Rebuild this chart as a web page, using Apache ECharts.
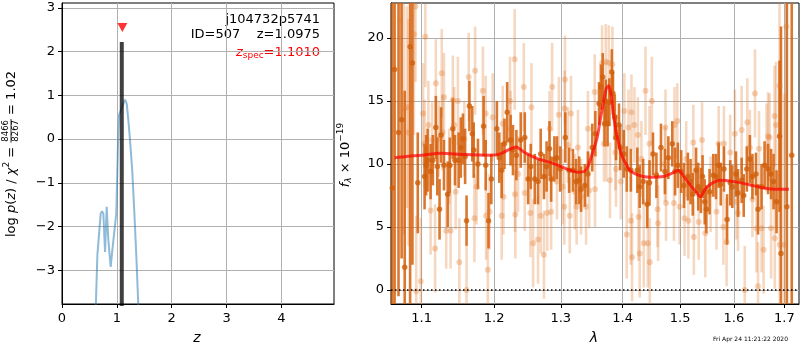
<!DOCTYPE html>
<html><head><meta charset="utf-8">
<script src="https://cdn.jsdelivr.net/npm/echarts@6/dist/echarts.min.js"></script>
<style>html,body{margin:0;padding:0;background:#fff}#c{width:800px;height:350px}</style>
</head><body><div id="c"></div>
<script>
// ---------- left panel data ----------
const zGrid = [0.60,0.645,0.675,0.706,0.73,0.754,0.785,0.815,0.845,0.888,0.918,0.948,0.99,1.02,1.04,1.076,1.11,1.15,1.18,1.21,1.235,1.25,1.28,1.32,1.356,1.39,1.40];
const logPz = [-4.5,-2.65,-2.63,-1.70,-1.65,-1.70,-2.58,-1.55,-2.31,-2.92,-2.54,-2.50,-1.70,-0.17,0.55,0.59,0.78,0.90,0.81,0.43,0.06,0.02,-0.70,-1.70,-2.69,-3.75,-4.5];
const zBest = 1.09, zBestTop = 2.22;
const zSpec = 1.101, zSpecMark = 2.55;
const zTicks = [0,1,2,3,4];
const logpTicks = [-3,-2,-1,0,1,2,3];
// ---------- right panel data ----------
const lamTicks = [1.1,1.2,1.3,1.4,1.5,1.6,1.7];
const fluxTicks = [0,5,10,15,20];
const lamD = [1.062,1.065,1.070,1.074,1.078,1.085,1.088,1.095,1.104,1.106,1.108,1.112,1.115,1.119,1.121,1.124,1.126,1.130,1.135,1.138,1.142,1.145,1.150,1.153,1.156,1.159,1.161,1.165,1.169,
1.171,1.177,1.185,1.188,1.192,1.196,1.204,1.2075,1.211,1.215,1.219,1.224,1.2275,1.2325,1.239,1.245,1.250,1.254,1.260,1.265,1.269,1.274,1.278,1.2825,1.285,
1.290,1.294,1.299,1.307,1.313,1.319,1.324,1.329,1.332,1.338,1.343,1.350,1.355,1.361,1.364,1.367,1.370,1.372,1.375,1.378,1.382,1.384,1.387,1.389,1.394,1.396,1.402,1.407,1.414,
1.425,1.429,1.435,1.442,1.446,1.452,1.458,1.466,1.473,1.479,1.486,1.491,1.496,1.502,1.507,1.514,1.519,1.523,1.529,1.533,1.538,1.541,1.545,1.548,1.554,1.561,1.566,
1.571,1.575,1.581,1.587,1.593,1.597,1.604,1.608,1.615,1.619,1.625,1.631,1.636,1.643,1.647,1.654,1.660,1.667,1.673,1.678,1.684,1.690,1.693,1.705,1.715];
const fluxD = [8.1,17.5,12.5,13.5,1.8,19.3,18.0,8.5,9.0,9.9,10.3,9.4,10.3,12.9,9.8,6.4,12.3,9.9,7.6,9.9,12.8,10.3,10.3,11.3,12.0,10.6,5.5,14.6,12.4,
11.1,10.0,13.0,9.9,5.5,8.8,12.8,10.5,9.5,11.6,14.1,11.9,11.1,10.7,11.9,12.1,8.8,9.8,8.8,8.6,10.8,9.0,9.8,11.2,8.8,
10.4,10.5,9.6,12.1,9.5,9.5,8.6,8.7,8.0,8.3,9.2,11.3,12.4,14.8,16.1,16.9,13.2,15.0,13.2,14.9,17.3,15.6,13.7,12.1,13.1,11.3,10.8,9.6,9.5,
9.5,8.2,8.6,6.8,8.5,10.8,9.1,11.3,9.4,10.5,11.6,9.4,9.9,9.4,8.3,9.0,8.6,7.6,9.5,8.2,7.9,9.0,7.0,6.4,7.8,9.1,9.0,
9.9,8.4,9.6,5.6,8.5,8.2,9.2,7.7,8.7,7.5,9.6,10.4,9.0,9.2,6.4,8.2,9.9,9.6,9.2,8.6,7.0,12.2,2.9,6.6,10.7];
const errD = [22,22,13,11,14,22,16,4,2.6,2.4,2.5,2.2,2.0,2.5,2.3,2.4,2.2,2.0,2.6,2.2,2.4,2.0,2.2,2.4,2.0,2.2,2.0,2.0,2.2,
2.2,2.0,2.4,2.0,2.2,2.0,2.2,2.0,2.2,2.0,2.4,2.0,2.0,2.0,2.2,2.0,2.0,1.8,2.0,1.8,2.0,1.8,2.0,2.2,1.8,
1.8,1.7,1.8,2.0,1.8,1.7,1.8,1.9,1.8,1.7,1.8,1.9,1.8,1.7,1.8,1.9,1.8,1.7,1.8,1.9,1.8,1.7,1.8,1.8,1.7,1.8,1.9,1.8,1.7,
1.8,1.7,1.8,1.9,1.8,1.7,1.8,1.9,1.8,1.7,1.8,1.9,1.8,1.7,1.8,1.9,1.8,1.7,1.8,1.9,1.8,1.7,1.8,1.9,1.8,1.7,1.8,
1.8,1.7,1.8,2.0,1.8,1.7,1.8,1.9,1.8,1.7,1.8,1.9,1.8,1.7,2.0,1.8,1.9,2.0,2.0,2.2,2.5,6,18,22,26];
const lamL = [1.072,1.077,1.081,1.083,1.090,1.092,1.093,1.099,1.102,1.104,1.105,1.109,1.112,1.114,1.118,1.119,1.123,1.127,1.128,1.130,1.133,1.137,1.139,1.142,1.144,1.146,1.149,1.151,1.158,1.161,1.164,
1.172,1.173,1.175,1.184,1.188,1.1885,1.191,1.1935,1.198,1.211,1.2125,1.2135,1.223,1.224,1.230,1.2305,1.231,1.235,1.2435,1.245,1.2535,1.255,1.2575,1.265,1.269,1.274,1.279,1.2825,1.285,1.2865,
1.294,1.297,1.303,1.306,1.3065,1.3055,1.311,1.314,1.316,1.322,1.325,1.327,1.332,1.340,1.343,1.345,1.354,1.3545,1.366,1.369,1.372,1.373,1.377,1.379,1.383,1.388,1.389,1.397,1.403,1.407,1.410,1.414,1.415,1.416,
1.420,1.426,1.427,1.429,1.432,1.436,1.439,1.443,1.446,1.4465,1.450,1.460,1.461,1.473,1.474,1.475,1.489,1.490,1.495,1.499,1.508,1.511,1.515,1.524,1.525,1.534,1.540,1.546,1.556,1.567,
1.571,1.580,1.581,1.586,1.593,1.602,1.605,1.608,1.615,1.621,1.626,1.631,1.636,1.641,1.644,1.647,1.649,1.654,1.658,1.664,1.667,1.670,1.673,1.680,1.6805,1.683,1.690,1.6905,1.700,1.704];
const fluxL = [21.4,14.4,14.5,12.5,20.3,22.5,-0.1,0.7,14.0,11.6,20.1,13.1,6.3,11.9,3.3,16.4,12.0,17.2,12.5,15.3,4.7,9.8,4.7,15.1,13.1,7.8,15.0,2.2,12.0,0.0,16.9,
5.7,17.4,8.2,15.8,14.0,5.9,1.6,6.2,13.7,5.9,13.2,7.4,15.0,12.8,18.3,7.6,6.0,9.2,16.1,7.7,6.1,14.5,3.7,4.0,5.9,2.8,6.1,12.8,6.2,16.1,
8.6,13.9,8.2,14.4,16.7,6.6,11.5,5.9,14.0,7.8,6.6,11.3,7.4,6.6,12.8,7.9,15.7,8.0,18.0,11.6,18.1,11.6,18.0,8.7,17.9,10.9,9.6,8.6,14.2,4.4,12.9,5.5,14.1,2.6,
13.1,12.3,5.8,2.9,10.4,3.7,15.8,3.7,11.6,2.2,15.0,6.4,5.3,10.0,12.9,6.9,6.9,13.1,13.4,6.6,5.7,10.4,5.5,11.7,4.2,5.4,11.9,4.5,7.6,6.2,
11.6,5.0,11.6,3.8,10.9,12.4,7.0,6.1,12.7,0.0,13.3,11.3,7.2,15.6,4.9,0.3,11.2,4.9,3.2,11.3,12.2,12.1,4.9,13.8,4.1,13.1,16.2,3.6,3.6,20.9];
const errL = [8,10,8,9,8,6,6,5,4,3.5,4,3.5,3.5,3,3.5,3.5,3,3.5,3,3.5,3,3,3,3.5,3,3,3.5,3.5,3,3.5,3.5,
3.5,3.5,3,3.5,3,3.5,3.5,3,3.5,3.5,3,3,3.5,3,4,3,3.5,3,3.5,3,3.5,3.5,3.5,3.5,3,3.5,3,3,3,3.5,
3,3,3,3,3.5,3,3,3,3,3,3,3,3,3,3,3,3,3,3,3,3,3,3,3,3,3,3,3,3,3.5,3,3.5,3,3.5,
3,3,3.5,3.5,3,3.5,3.5,3.5,3,3.5,3.5,3,3,3,3,3,3,3,3,3,3,3,3,3,3,3,3,3.5,3,3,
3,3,3,3.5,3,3.5,3,3,3.5,3.5,3.5,3,3,3.5,3.5,3.5,3,3.5,3.5,3.5,3.5,3.5,4,4,4,5,8,8,12,14];
const lamM = [1.065,1.08,1.10,1.126,1.158,1.195,1.209,1.22,1.232,1.245,1.265,1.285,1.30,1.315,1.327,1.337,1.343,1.350,1.358,1.364,1.369,1.373,1.377,1.381,1.385,1.390,1.395,1.400,1.406,1.412,1.420,1.435,1.45,1.47,1.485,1.497,1.505,1.515,1.527,1.537,1.546,1.556,1.574,1.60,1.63,1.658,1.685,1.709];
const fluxM = [10.5,10.6,10.7,10.85,10.75,10.7,10.8,11.1,11.35,10.9,10.4,10.1,9.8,9.5,9.35,9.4,9.8,10.8,12.1,13.8,15.1,16.0,16.2,15.4,13.8,12.4,11.3,10.5,10.0,9.5,9.25,9.0,8.95,9.0,9.25,9.5,9.1,8.5,7.9,7.4,8.0,8.4,8.7,8.6,8.35,8.1,8.0,8.0];

// ---------- helpers ----------
const FONT = '"DejaVu Sans"';
const mctx = document.createElement('canvas').getContext('2d');
function tw(t, s, it) { mctx.font = (it ? 'italic ' : '') + s + 'px ' + FONT; return mctx.measureText(t).width; }
function txt(t, x, y, s, it, align, color) {
  return {type: 'text', x: x, y: y, silent: true, style: {text: t, font: (it ? 'italic ' : '') + s + 'px ' + FONT,
    fill: color || '#000', textAlign: align, textVerticalAlign: 'middle', align: align, verticalAlign: 'middle'}};
}
function mathText(segs, o) {
  let x = 0; const ch = [];
  segs.forEach(sg => {
    const col = sg.c || o.color || '#000';
    if (sg.frac) {
      const w = Math.max(tw(sg.frac[0], sg.s), tw(sg.frac[1], sg.s)) + 2;
      ch.push(txt(sg.frac[0], x + w / 2, (sg.dy || 0) - sg.s * 0.6, sg.s, false, 'center', col));
      ch.push(txt(sg.frac[1], x + w / 2, (sg.dy || 0) + sg.s * 0.6, sg.s, false, 'center', col));
      ch.push({type: 'line', silent: true, shape: {x1: x, y1: sg.dy || 0, x2: x + w, y2: sg.dy || 0}, style: {stroke: col, lineWidth: 0.8}});
      x += w;
    } else {
      ch.push(txt(sg.t, x, sg.dy || 0, sg.s, sg.it, 'left', col));
      x += tw(sg.t, sg.s, sg.it);
    }
  });
  const sh = o.align === 'right' ? -x : (o.align === 'center' ? -x / 2 : 0);
  ch.forEach(c => { if (c.type === 'line') { c.shape.x1 += sh; c.shape.x2 += sh; } else c.x += sh; });
  return {type: 'group', x: o.x, y: o.y, rotation: o.rot || 0, children: ch};
}
const minus = v => (v < 0 ? '\u2212' + Math.abs(v) : String(v));
function errBars(color, lw) {
  return function (params, api) {
    const x = api.value(0), y = api.value(1), e = api.value(2);
    const p0 = api.coord([x, y - e]), p1 = api.coord([x, y + e]);
    return {type: 'line', shape: {x1: p0[0], y1: p0[1], x2: p1[0], y2: p1[1]}, style: {stroke: color, lineWidth: lw}};
  };
}

// ---------- axes ----------
const axLine = {show: true, onZero: false, lineStyle: {color: '#000', width: 1}};
const axTick = {show: true, inside: false, length: 4, lineStyle: {color: '#000', width: 1}};
const axLab = {color: '#000', fontSize: 13, fontFamily: 'DejaVu Sans'};
const split = {show: true, lineStyle: {color: '#b0b0b0', width: 1}};
const lnMin = Math.log(1.0604), lnMax = Math.log(1.730);

const option = {
  animation: false,
  backgroundColor: '#fff',
  grid: [
    {left: 62, top: 3, width: 272, height: 301, show: true, borderColor: '#000', borderWidth: 1, backgroundColor: 'transparent'},
    {left: 391, top: 3, width: 408, height: 301, show: true, borderColor: '#000', borderWidth: 1, backgroundColor: 'transparent'}
  ],
  xAxis: [
    {type: 'value', gridIndex: 0, min: 0, max: 4.96, axisLine: axLine,
      axisTick: Object.assign({}, axTick, {customValues: zTicks}),
      axisLabel: Object.assign({}, axLab, {margin: 8, customValues: zTicks, formatter: minus}), splitLine: split},
    {type: 'value', gridIndex: 1, min: lnMin, max: lnMax, axisLine: axLine,
      axisTick: Object.assign({}, axTick, {customValues: lamTicks.map(Math.log)}),
      axisLabel: Object.assign({}, axLab, {margin: 8, customValues: lamTicks.map(Math.log),
        formatter: v => { const l = Math.exp(v); let b = lamTicks[0]; lamTicks.forEach(t => { if (Math.abs(t - l) < Math.abs(b - l)) b = t; }); return b.toFixed(1); }}),
      splitLine: split}
  ],
  yAxis: [
    {type: 'value', gridIndex: 0, min: -3.77, max: 3.11, axisLine: axLine,
      axisTick: Object.assign({}, axTick, {customValues: logpTicks}),
      axisLabel: Object.assign({}, axLab, {margin: 7, customValues: logpTicks, formatter: minus}), splitLine: split},
    {type: 'value', gridIndex: 1, min: -1.11, max: 22.77, axisLine: axLine,
      axisTick: Object.assign({}, axTick, {customValues: fluxTicks}),
      axisLabel: Object.assign({}, axLab, {margin: 7, customValues: fluxTicks, formatter: minus}), splitLine: split}
  ],
  series: [
    {type: 'line', xAxisIndex: 0, yAxisIndex: 0, data: zGrid.map((z, i) => [z, logPz[i]]), showSymbol: false, clip: true,
      lineStyle: {color: 'rgba(31,119,180,0.5)', width: 2}},
    {type: 'line', xAxisIndex: 0, yAxisIndex: 0, data: [[zBest, -10], [zBest, zBestTop]], showSymbol: false, clip: true,
      lineStyle: {color: 'rgba(0,0,0,0.75)', width: 4, cap: 'butt'}},
    {type: 'scatter', xAxisIndex: 0, yAxisIndex: 0, data: [[zSpec, zSpecMark]], symbol: 'triangle', symbolRotate: 180,
      symbolSize: [10, 9], itemStyle: {color: '#ff0000'}},
    {type: 'custom', xAxisIndex: 1, yAxisIndex: 1, clip: true, data: lamL.map((l, i) => [Math.log(l), fluxL[i], errL[i]]),
      renderItem: errBars('rgba(226,122,45,0.3)', 2.6)},
    {type: 'scatter', xAxisIndex: 1, yAxisIndex: 1, clip: true, data: lamL.map((l, i) => [Math.log(l), fluxL[i]]),
      symbolSize: 6, itemStyle: {color: 'rgba(226,122,45,0.4)'}},
    {type: 'custom', xAxisIndex: 1, yAxisIndex: 1, clip: true, data: lamD.map((l, i) => [Math.log(l), fluxD[i], errD[i]]),
      renderItem: errBars('rgba(212,96,12,0.85)', 2.6)},
    {type: 'scatter', xAxisIndex: 1, yAxisIndex: 1, clip: true, data: lamD.map((l, i) => [Math.log(l), fluxD[i]]),
      symbolSize: 5.5, itemStyle: {color: 'rgb(208,96,12)'}},
    {type: 'line', xAxisIndex: 1, yAxisIndex: 1, data: lamM.map((l, i) => [Math.log(l), fluxM[i]]), showSymbol: false, smooth: 0.25, clip: true,
      lineStyle: {color: 'rgba(255,0,0,0.7)', width: 3},
      markLine: {symbol: 'none', silent: true, label: {show: false}, data: [{yAxis: 0}],
        lineStyle: {color: '#000', type: [1.5, 2.5], width: 1.5}}}
  ],
  graphic: [
    mathText([{t: 'log ', s: 13}, {t: 'p', s: 13, it: true}, {t: '(', s: 13}, {t: 'z', s: 13, it: true}, {t: ') / ', s: 13},
      {t: '\u03c7', s: 13, it: true}, {t: '2', s: 9, dy: -5}, {t: ' = ', s: 13}, {frac: ['8466', '8267'], s: 8.5, dy: -1},
      {t: ' = 1.02', s: 13}], {x: 12, y: 154, rot: Math.PI / 2, align: 'center'}),
    mathText([{t: 'j104732p5741', s: 13}], {x: 320, y: 20, align: 'right'}),
    mathText([{t: 'ID=507    z=1.0975', s: 13}], {x: 320, y: 35, align: 'right'}),
    mathText([{t: 'z', s: 13, it: true}, {t: 'spec', s: 9, dy: 3}, {t: '=1.1010', s: 13}], {x: 320, y: 53, align: 'right', color: '#ff0000'}),
    mathText([{t: 'z', s: 14, it: true}], {x: 197, y: 338, align: 'center'}),
    mathText([{t: 'f', s: 13, it: true}, {t: '\u03bb', s: 9, it: true, dy: 3}, {t: ' \u00d7 10', s: 13}, {t: '\u221219', s: 9, dy: -5}],
      {x: 346, y: 155, rot: Math.PI / 2, align: 'center'}),
    mathText([{t: '\u03bb', s: 14, it: true}], {x: 594, y: 338, align: 'center'}),
    mathText([{t: 'Fri Apr 24 11:21:22 2020', s: 6}], {x: 788, y: 339, align: 'right'})
  ]
};
const chart = echarts.init(document.getElementById('c'), null, {renderer: 'canvas'});
chart.setOption(option);
</script></body></html>
